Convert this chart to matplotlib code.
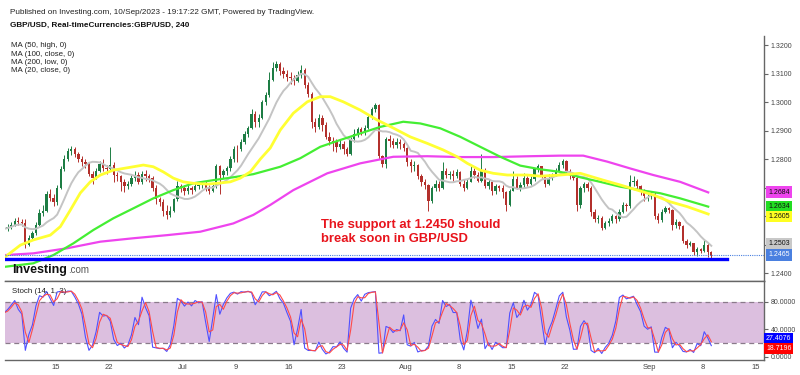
import numpy as np
import pandas as pd
import matplotlib
matplotlib.use("Agg")
import matplotlib.pyplot as plt

plt.rcParams['font.family'] = ['Liberation Sans', 'DejaVu Sans']

# GBP/USD, drawn as three bars per trading day (x = trading days since 8 Jun 2023)
start_day = '2023-06-08'
days = pd.bdate_range(start_day, '2023-09-08')
first_open = 1.2548

closes = [
    1.2556, 1.2562, 1.2570,  1.2585, 1.2580, 1.2576,  1.2500, 1.2525, 1.2540,
    1.2570, 1.2610, 1.2620,  1.2680, 1.2665, 1.2650,  1.2700, 1.2765, 1.2800,
    1.2830, 1.2838, 1.2820,  1.2800, 1.2790, 1.2785,  1.2750, 1.2735, 1.2760,
    1.2785, 1.2770, 1.2765,  1.2780, 1.2745, 1.2740,  1.2720, 1.2705, 1.2712,
    1.2735, 1.2745, 1.2720,  1.2750, 1.2740, 1.2735,  1.2700, 1.2660, 1.2650,
    1.2620, 1.2605, 1.2620,  1.2660, 1.2705, 1.2700,  1.2690, 1.2698, 1.2692,
    1.2705, 1.2710, 1.2715,  1.2700, 1.2690, 1.2705,  1.2775, 1.2745, 1.2760,
    1.2770, 1.2800, 1.2838,  1.2835, 1.2860, 1.2890,  1.2910, 1.2960, 1.2930,
    1.2945, 1.3000, 1.3025,  1.3080, 1.3120, 1.3135,  1.3110, 1.3100, 1.3090,
    1.3085, 1.3075, 1.3095,  1.3115, 1.3060, 1.3030,  1.2930, 1.2915, 1.2945,
    1.2920, 1.2880, 1.2865,  1.2860, 1.2845, 1.2855,  1.2835, 1.2818, 1.2870,
    1.2890, 1.2905, 1.2895,  1.2910, 1.2950, 1.2975,  1.2990, 1.2810, 1.2785,
    1.2870, 1.2865, 1.2850,  1.2860, 1.2855, 1.2840,  1.2790, 1.2775, 1.2780,
    1.2740, 1.2720, 1.2710,  1.2655, 1.2700, 1.2715,  1.2700, 1.2760, 1.2745,
    1.2750, 1.2740, 1.2755,  1.2715, 1.2700, 1.2720,  1.2760, 1.2745, 1.2725,
    1.2760, 1.2705, 1.2720,  1.2690, 1.2705, 1.2700,  1.2685, 1.2640, 1.2690,
    1.2730, 1.2700, 1.2710,  1.2735, 1.2715, 1.2730,  1.2765, 1.2775, 1.2740,
    1.2715, 1.2735, 1.2745,  1.2760, 1.2780, 1.2795,  1.2760, 1.2745, 1.2735,
    1.2640, 1.2700, 1.2715,  1.2700, 1.2615, 1.2590,  1.2595, 1.2560, 1.2575,
    1.2585, 1.2600, 1.2590,  1.2615, 1.2640, 1.2635,  1.2720, 1.2725, 1.2705,
    1.2690, 1.2670, 1.2670,  1.2680, 1.2600, 1.2588,  1.2615, 1.2628, 1.2622,
    1.2570, 1.2580, 1.2565,  1.2515, 1.2500, 1.2505,  1.2475, 1.2485, 1.2480,
    1.2500, 1.2475, 1.2465,
]
highs = [
    1.2565, 1.2572, 1.2580,  1.2595, 1.2598, 1.2590,  1.2590, 1.2535, 1.2548,
    1.2580, 1.2625, 1.2640,  1.2690, 1.2695, 1.2678,  1.2710, 1.2775, 1.2815,
    1.2840, 1.2848, 1.2845,  1.2825, 1.2810, 1.2800,  1.2790, 1.2760, 1.2770,
    1.2795, 1.2800, 1.2780,  1.2843, 1.2790, 1.2755,  1.2745, 1.2730, 1.2725,
    1.2745, 1.2760, 1.2755,  1.2758, 1.2762, 1.2750,  1.2742, 1.2710, 1.2668,
    1.2660, 1.2640, 1.2635,  1.2665, 1.2725, 1.2715,  1.2710, 1.2715, 1.2705,
    1.2718, 1.2722, 1.2725,  1.2725, 1.2710, 1.2712,  1.2785, 1.2780, 1.2765,
    1.2775, 1.2810, 1.2848,  1.2850, 1.2870, 1.2900,  1.2918, 1.2975, 1.2970,
    1.2960, 1.3010, 1.3035,  1.3105, 1.3140, 1.3146,  1.3140, 1.3125, 1.3115,
    1.3105, 1.3095, 1.3110,  1.3130, 1.3120, 1.3070,  1.3035, 1.2945, 1.2960,
    1.2955, 1.2930, 1.2895,  1.2880, 1.2870, 1.2870,  1.2865, 1.2845, 1.2878,
    1.2905, 1.2915, 1.2912,  1.2920, 1.2960, 1.2985,  1.2997, 1.2995, 1.2815,
    1.2880, 1.2885, 1.2875,  1.2875, 1.2870, 1.2860,  1.2845, 1.2800, 1.2795,
    1.2785, 1.2750, 1.2730,  1.2712, 1.2708, 1.2728,  1.2725, 1.2791, 1.2770,
    1.2760, 1.2762, 1.2765,  1.2760, 1.2730, 1.2730,  1.2775, 1.2770, 1.2755,
    1.2818, 1.2770, 1.2730,  1.2725, 1.2712, 1.2710,  1.2710, 1.2690, 1.2695,
    1.2760, 1.2740, 1.2720,  1.2752, 1.2740, 1.2740,  1.2770, 1.2785, 1.2778,
    1.2745, 1.2750, 1.2752,  1.2768, 1.2790, 1.2801,  1.2798, 1.2765, 1.2752,
    1.2740, 1.2705, 1.2722,  1.2720, 1.2705, 1.2625,  1.2605, 1.2600, 1.2585,
    1.2595, 1.2608, 1.2605,  1.2625, 1.2650, 1.2648,  1.2745, 1.2740, 1.2730,
    1.2710, 1.2695, 1.2685,  1.2690, 1.2685, 1.2610,  1.2625, 1.2635, 1.2632,
    1.2625, 1.2590, 1.2585,  1.2570, 1.2520, 1.2515,  1.2505, 1.2492, 1.2490,
    1.2517, 1.2505, 1.2480,
]
lows = [
    1.2540, 1.2548, 1.2555,  1.2565, 1.2570, 1.2565,  1.2490, 1.2495, 1.2518,
    1.2535, 1.2565, 1.2600,  1.2615, 1.2655, 1.2635,  1.2640, 1.2695, 1.2760,
    1.2795, 1.2815, 1.2808,  1.2790, 1.2775, 1.2770,  1.2740, 1.2712, 1.2730,
    1.2755, 1.2760, 1.2750,  1.2760, 1.2720, 1.2725,  1.2690, 1.2685, 1.2695,
    1.2705, 1.2725, 1.2712,  1.2715, 1.2725, 1.2720,  1.2690, 1.2645, 1.2635,
    1.2600, 1.2592, 1.2598,  1.2615, 1.2655, 1.2685,  1.2675, 1.2680, 1.2680,
    1.2688, 1.2695, 1.2700,  1.2690, 1.2680, 1.2685,  1.2700, 1.2680, 1.2735,
    1.2745, 1.2758, 1.2790,  1.2790, 1.2830, 1.2855,  1.2880, 1.2905, 1.2915,
    1.2915, 1.2940, 1.2990,  1.3020, 1.3075, 1.3110,  1.3095, 1.3085, 1.3075,
    1.3065, 1.3060, 1.3070,  1.3085, 1.3050, 1.3020,  1.2910, 1.2895, 1.2905,
    1.2900, 1.2870, 1.2850,  1.2830, 1.2826, 1.2835,  1.2818, 1.2810, 1.2815,
    1.2860, 1.2880, 1.2885,  1.2885, 1.2905, 1.2940,  1.2965, 1.2800, 1.2772,
    1.2770, 1.2845, 1.2840,  1.2840, 1.2835, 1.2830,  1.2775, 1.2755, 1.2760,
    1.2730, 1.2705, 1.2695,  1.2620, 1.2648, 1.2690,  1.2690, 1.2695, 1.2735,
    1.2730, 1.2725, 1.2735,  1.2705, 1.2690, 1.2695,  1.2720, 1.2735, 1.2720,
    1.2720, 1.2700, 1.2695,  1.2675, 1.2680, 1.2690,  1.2665, 1.2620, 1.2635,
    1.2690, 1.2695, 1.2690,  1.2700, 1.2705, 1.2710,  1.2725, 1.2755, 1.2735,
    1.2703, 1.2710, 1.2728,  1.2740, 1.2755, 1.2770,  1.2748, 1.2730, 1.2727,
    1.2620, 1.2630, 1.2685,  1.2690, 1.2600, 1.2580,  1.2575, 1.2552, 1.2555,
    1.2565, 1.2578, 1.2578,  1.2585, 1.2610, 1.2620,  1.2630, 1.2705, 1.2695,
    1.2675, 1.2655, 1.2655,  1.2660, 1.2590, 1.2578,  1.2580, 1.2612, 1.2610,
    1.2552, 1.2560, 1.2555,  1.2505, 1.2490, 1.2495,  1.2465, 1.2460, 1.2470,
    1.2475, 1.2458, 1.2455,
]

# moving averages (trading-day position, price)
ma50_x = [0.28, 1.70, 2.92, 4.52, 5.47, 6.41, 7.35, 8.29, 9.24, 10.46,
          12.35, 13.29, 14.23, 15.17, 16.12, 17.06, 18.00, 19.32, 20.26, 21.49,
          22.43, 23.37, 24.32, 25.26, 26.20, 27.43, 28.75, 29.97, 30.91, 32.14,
          33.74, 35.34, 36.85, 38.45, 40.06, 41.56, 42.88, 43.83, 45.05, 46.28,
          47.60, 49.48, 50.71, 52.59, 54.48, 56.64, 58.25, 59.85, 61.36, 62.96,
          64.56, 66.54]
ma50_v = [1.2458, 1.2499, 1.2517, 1.2534, 1.2564, 1.2622, 1.2682, 1.2721, 1.2745, 1.2762,
          1.2774, 1.2780, 1.2774, 1.2756, 1.2734, 1.2721, 1.2716, 1.2713, 1.2716, 1.2721,
          1.2734, 1.2756, 1.2801, 1.2840, 1.2903, 1.2962, 1.3002, 1.3020, 1.3020, 1.3002,
          1.2973, 1.2938, 1.2910, 1.2879, 1.2856, 1.2833, 1.2809, 1.2786, 1.2762, 1.2751,
          1.2745, 1.2745, 1.2741, 1.2745, 1.2751, 1.2727, 1.2710, 1.2692, 1.2675, 1.2651,
          1.2634, 1.2608]
ma100_x = [0.28, 2.92, 4.81, 6.69, 8.58, 10.46, 12.35, 14.23, 16.12, 18.00,
           19.89, 21.77, 23.66, 26.20, 28.09, 29.97, 31.86, 33.74, 35.63, 37.79,
           39.40, 41.28, 43.17, 45.05, 46.94, 48.82, 50.71, 52.59, 54.48, 56.36,
           58.25, 60.13, 62.02, 63.90, 66.54]
ma100_v = [1.2423, 1.2435, 1.2464, 1.2505, 1.2552, 1.2593, 1.2628, 1.2663, 1.2692, 1.2716,
           1.2727, 1.2737, 1.2748, 1.2774, 1.2804, 1.2844, 1.2868, 1.2891, 1.2914, 1.2932,
           1.2926, 1.2909, 1.2879, 1.2844, 1.2809, 1.2778, 1.2765, 1.2756, 1.2737, 1.2721,
           1.2704, 1.2692, 1.2681, 1.2663, 1.2634]
ma200_x = [0.28, 2.92, 6.13, 9.24, 12.35, 15.55, 18.66, 21.77, 23.66, 25.26,
           27.43, 30.63, 33.74, 36.85, 40.06, 43.17, 46.28, 49.76, 52.59, 54.76,
           57.02, 59.19, 61.36, 63.90, 66.54]
ma200_v = [1.2464, 1.2470, 1.2488, 1.2511, 1.2523, 1.2534, 1.2546, 1.2575, 1.2605, 1.2640,
           1.2692, 1.2751, 1.2786, 1.2809, 1.2811, 1.2808, 1.2808, 1.2811, 1.2813, 1.2813,
           1.2792, 1.2768, 1.2745, 1.2721, 1.2684]

support = 1.2450
support_end = 68.3
last_price = 1.2465
price_labels = [('1.2684', 1.2684, '#ee44ee', '#111111'),
                ('1.2634', 1.2634, '#22dd22', '#111111'),
                ('1.2605', 1.2605, '#ffff22', '#111111'),
                ('1.2503', 1.2503, '#c8c8c8', '#111111'),
                ('1.2465', 1.2465, '#4a80e0', 'white')]
stoch_labels = [('27.4076', 27.4076, '#0000ff'), ('18.7196', 18.7196, '#ff0000')]

tick_dates = ['2023-06-15', '2023-06-22', '2023-07-01', '2023-07-09', '2023-07-16', '2023-07-23',
              '2023-08-01', '2023-08-08', '2023-08-15', '2023-08-22', '2023-09-01', '2023-09-08',
              '2023-09-15']
tick_names = ['15', '22', 'Jul', '9', '16', '23', 'Aug', '8', '15', '22', 'Sep', '8', '15']
price_ticks = [1.24, 1.25, 1.26, 1.27, 1.28, 1.29, 1.30, 1.31, 1.32]
# tick labels that sit under the coloured value boxes
covered_ticks = [1.25, 1.26, 1.27]

# ---- derived bar data
c = np.array(closes)
h = np.array(highs)
l = np.array(lows)
o = np.concatenate([[first_open], c[:-1]])
n_per_day = 3
xb = np.arange(len(c)) / n_per_day + 0.5 / n_per_day

ma20 = pd.Series(c).rolling(10, min_periods=1).mean()
lo_n = pd.Series(l).rolling(7, min_periods=1).min()
hi_n = pd.Series(h).rolling(7, min_periods=1).max()
k_line = 100 * (c - lo_n) / (hi_n - lo_n)
d_line = k_line.rolling(2, min_periods=1).mean()

W, H = 800, 375
fig = plt.figure(figsize=(8, 3.75), dpi=100)
ax = fig.add_axes([5 / W, 1 - 280.7 / H, 759 / W, (280.7 - 36) / H])
axs = fig.add_axes([5 / W, 1 - 360 / H, 759 / W, (360 - 280.7) / H])

up = c >= o
green, red = '#1d7d44', '#b3302c'
cols = np.where(up, green, red)
ax.vlines(xb, l, h, colors=cols, lw=0.7, zorder=2)
body = np.maximum(np.abs(c - o), 0.00008)
ax.bar(xb, body, bottom=np.minimum(o, c), width=0.22, color=cols, lw=0, zorder=3)

ax.plot(xb, ma20, color='#c4c4c4', lw=1.4, zorder=4)
ax.plot(ma200_x, ma200_v, color='#ee44ee', lw=1.6, zorder=4)
ax.plot(ma100_x, ma100_v, color='#44ee33', lw=1.6, zorder=4)
ax.plot(ma50_x, ma50_v, color='#ffff33', lw=2.0, zorder=4)

ax.axhline(last_price, color='#4a80e0', lw=0.8, ls=(0, (1, 1)), zorder=5)
ax.plot([0.25, support_end], [support, support], color='#0000ff', lw=2.4, zorder=5)

ax.set_xlim(0.25, 71.8)
ax.set_ylim(1.2374, 1.3233)
ax.yaxis.tick_right()
ax.set_yticks(price_ticks)
ax.set_yticklabels(['' if v in covered_ticks else f'{v:.4f}' for v in price_ticks])
ax.tick_params(axis='y', length=3, width=0.8, color='#666666', labelsize=5,
               labelcolor='#444444', pad=2)
ax.set_xticks([])
for s in ['top', 'left']:
    ax.spines[s].set_visible(False)
for s in ['right', 'bottom']:
    ax.spines[s].set_color('#666666')
    ax.spines[s].set_linewidth(1)

for txt, val, bg, fg in price_labels:
    off = -1.2 if txt == '1.2605' else 0
    ax.annotate(txt, xy=(1, val), xycoords=('axes fraction', 'data'),
                xytext=(3, off), textcoords='offset points', va='center', ha='left',
                fontsize=5, color=fg, annotation_clip=False, zorder=10,
                bbox=dict(boxstyle='square,pad=0.35', fc=bg, ec='none'))

note_x = (321 - 5) / 759
ax.text(note_x, 1 - (228.3 - 36) / (280.7 - 36),
        'The support at 1.2450 should', transform=ax.transAxes, fontsize=9.4,
        weight='bold', color='#e8141c', va='baseline', ha='left')
ax.text(note_x, 1 - (241.7 - 36) / (280.7 - 36),
        'break soon in GBP/USD', transform=ax.transAxes, fontsize=9.4,
        weight='bold', color='#e8141c', va='baseline', ha='left')

# stochastic pane
axs.axhspan(20, 80, color='#dcbfdf', lw=0, zorder=1)
for lvl in (20, 80):
    axs.axhline(lvl, color='#8a7a8a', lw=0.9, ls=(0, (4, 3)), zorder=2)
axs.plot(xb, k_line, color='#5050ff', lw=0.8, zorder=3)
axs.plot(xb, d_line, color='#ff4a4a', lw=0.8, zorder=4)
axs.set_xlim(0.25, 71.8)
axs.set_ylim(-4.8, 110.7)
axs.yaxis.tick_right()
axs.set_yticks([0, 40, 80])
axs.set_yticklabels(['0.0000', '40.0000', '80.0000'])
axs.tick_params(axis='y', length=3, width=0.8, color='#666666', labelsize=5,
                labelcolor='#444444', pad=2)
tick_pos = [np.busday_count(start_day, t) for t in tick_dates]
axs.set_xticks(tick_pos)
axs.set_xticklabels(tick_names)
axs.tick_params(axis='x', length=0, labelsize=5.5, labelcolor='#444444', pad=3)
axs.spines['left'].set_visible(False)
for s in ['top', 'right', 'bottom']:
    axs.spines[s].set_color('#666666')
    axs.spines[s].set_linewidth(1)
axs.text(7 / 759, 1 - (293 - 280.7) / (360 - 280.7), 'Stoch (14, 1, 3)',
         transform=axs.transAxes, fontsize=5.7, color='#222222', va='baseline')
for txt, val, bg in stoch_labels:
    off = -3.2 if txt == '18.7196' else -0.6
    axs.annotate(txt, xy=(1, val), xycoords=('axes fraction', 'data'),
                 xytext=(1.5, off), textcoords='offset points', va='center', ha='left',
                 fontsize=5, color='white', annotation_clip=False, zorder=10,
                 bbox=dict(boxstyle='square,pad=0.28', fc=bg, ec='none'))

# header and legend
fig.text(10 / W, 1 - 14 / H,
         'Published on Investing.com, 10/Sep/2023 - 19:17:22 GMT, Powered by TradingView.',
         fontsize=5.9, color='#222222', va='baseline')
fig.text(10 / W, 1 - 27.3 / H, 'GBP/USD, Real-timeCurrencies:GBP/USD, 240',
         fontsize=5.9, weight='bold', color='#111111', va='baseline')
for i, name in enumerate(['MA (50, high, 0)', 'MA (100, close, 0)',
                          'MA (200, low, 0)', 'MA (20, close, 0)']):
    fig.text(11 / W, 1 - (47 + 8.5 * i) / H, name, fontsize=5.7,
             color='#222222', va='baseline')

fig.text(12 / W, 1 - 273 / H, 'Investing', fontsize=9, weight='bold',
         color='#111111', va='baseline')
fig.text(68 / W, 1 - 273 / H, '.com', fontsize=7, color='#555555', va='baseline')

fig.savefig('out.png', dpi=100)
